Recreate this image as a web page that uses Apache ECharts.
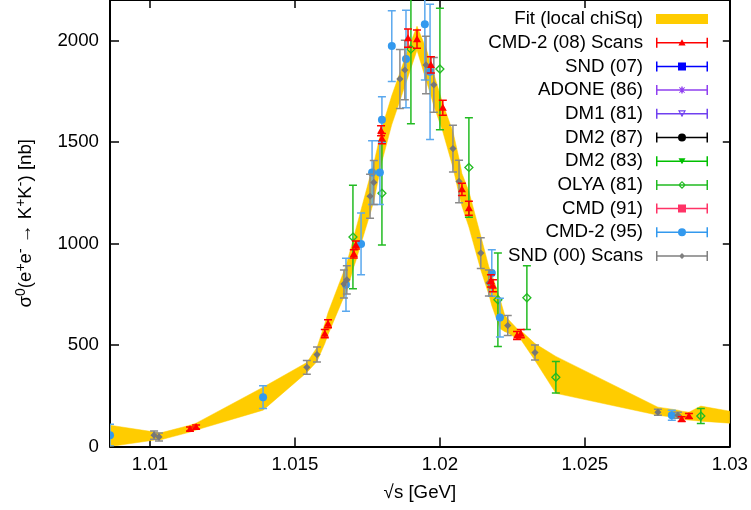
<!DOCTYPE html>
<html><head><meta charset="utf-8">
<script src="https://cdn.jsdelivr.net/npm/echarts@6/dist/echarts.min.js"></script>
<style>html,body{margin:0;padding:0;background:#fff}#c{width:751px;height:510px}</style>
</head><body><div id="c"></div>
<script>
// ---------- axes ----------
const xTickValues = [1.01, 1.015, 1.02, 1.025, 1.03];
const xMin = 1.00862, xMax = 1.03;
const yMin = 0, yMax = 2200, yStep = 500;

// ---------- fit band (local chiSq): x, upper, lower ----------
const fitX  = [1.00862,1.01017,1.01034,1.01138,1.01159,1.01390,1.01541,1.01576,1.01603,1.01614,1.01669,1.01679,1.01703,1.01710,1.01759,1.01772,1.01800,1.01834,1.01862,1.01883,1.01890,1.01921,1.01952,1.01969,1.01979,1.02010,1.02045,1.02066,1.02076,1.02100,1.02141,1.02169,1.02179,1.02207,1.02224,1.02234,1.02269,1.02279,1.02328,1.02400,1.02752,1.02800,1.02821,1.02834,1.02859,1.02900,1.03000];
const fitHi = [105,71,66,105,115,292,414,488,605,659,865,904,1032,1071,1331,1395,1571,1729,1841,1929,1958,2071,1963,1885,1836,1689,1551,1419,1345,1257,1037,885,850,728,645,630,576,571,507,444,194,184,179,174,169,199,174];
const fitLo = [0,32,32,71,81,179,365,419,507,551,738,767,885,914,1145,1208,1404,1586,1703,1792,1821,1953,1806,1728,1679,1551,1375,1243,1184,1081,870,748,694,581,566,561,527,527,424,262,154,145,140,135,130,125,115];

// ---------- CMD-2 (08) Scans ----------
const cmd208X = [1.01138,1.01159,1.01603,1.01614,1.01703,1.01710,1.01797,1.01800,1.01890,1.01921,1.01969,1.02010,1.02076,1.02100,1.02176,1.02183,1.02266,1.02279,1.02834,1.02859];
const cmd208Y = [86,96,556,605,949,993,1556,1517,2012,2007,1880,1669,1267,1174,816,792,547,556,135,150];
const cmd208E = [10,10,20,20,20,20,25,25,45,45,40,37,30,34,30,30,20,20,12,12];

// ---------- SND (00) Scans ----------
const snd00X = [1.01014,1.01031,1.01541,1.01576,1.01669,1.01679,1.01759,1.01772,1.01862,1.01879,1.01952,1.01979,1.02045,1.02066,1.02141,1.02169,1.02234,1.02328,1.02752,1.02821];
const snd00Y = [56,47,390,453,801,821,1233,1301,1811,1855,1880,1782,1468,1306,953,806,596,463,169,154];
const snd00E = [20,20,34,37,69,69,108,108,145,147,142,135,115,105,76,64,49,37,15,15];

// ---------- CMD-2 (95) ----------
const cmd295X = [1.00862,1.01390,1.01676,1.01728,1.01766,1.01793,1.01800,1.01834,1.01883,1.01948,1.01966,1.02179,1.02207,1.02800];
const cmd295Y = [56,243,797,998,1350,1350,1610,1973,1909,2081,1846,855,635,154];
const cmd295E = [54,56,130,152,157,157,113,174,240,275,333,115,96,25];

// ---------- OLYA (81) ----------
const olyaX = [1.017,1.018,1.019,1.020,1.021,1.022,1.023,1.024,1.029];
const olyaY = [1032,1248,1958,1860,1375,723,733,341,150];
const olyaE = [255,255,368,299,245,230,157,78,37];

// ---------- series without points in this window ----------
const emptyX = [], emptyY = [], emptyE = [];

const legendNames = ['Fit (local chiSq)','CMD-2 (08) Scans','SND (07)','ADONE (86)','DM1 (81)','DM2 (87)','DM2 (83)','OLYA (81)','CMD (91)','CMD-2 (95)','SND (00) Scans'];

const FONT = '"Liberation Sans", Arial, Helvetica, sans-serif';
const FS = 18.7;

function markerShape(kind, p, color) {
  const x = p[0], y = p[1];
  if (kind === 'tri') return {type:'polygon', shape:{points:[[x,y-4],[x+4,y+3],[x-4,y+3]]}, style:{fill:color}};
  if (kind === 'dia') return {type:'polygon', shape:{points:[[x,y-3.6],[x+3.6,y],[x,y+3.6],[x-3.6,y]]}, style:{fill:color}};
  if (kind === 'odia') return {type:'polygon', shape:{points:[[x,y-4],[x+4,y],[x,y+4],[x-4,y]]}, style:{fill:'none', stroke:color, lineWidth:1.3}};
  if (kind === 'circ') return {type:'circle', shape:{cx:x, cy:y, r:4}, style:{fill:color}};
  if (kind === 'sq') return {type:'rect', shape:{x:x-3.5, y:y-3.5, width:7, height:7}, style:{fill:color}};
  return {type:'circle', shape:{cx:x, cy:y, r:3}, style:{fill:color}};
}

function errSeries(name, xs, ys, es, color, barColor, marker) {
  return {
    type:'custom', name: name, clip:true,
    data: xs.map((x,i)=>[x, ys[i], es[i]]),
    encode:{x:0, y:1},
    itemStyle:{color: color},
    renderItem: function(params, api) {
      const x = api.value(0), y = api.value(1), e = api.value(2);
      const p = api.coord([x, y]);
      const a = api.coord([x, y + e]);
      const b = api.coord([x, y - e]);
      const w = 4;
      const ls = {stroke: barColor, lineWidth: 1.5};
      return {type:'group', children:[
        {type:'line', shape:{x1:p[0], y1:a[1], x2:p[0], y2:b[1]}, style:ls},
        {type:'line', shape:{x1:p[0]-w, y1:a[1], x2:p[0]+w, y2:a[1]}, style:ls},
        {type:'line', shape:{x1:p[0]-w, y1:b[1], x2:p[0]+w, y2:b[1]}, style:ls},
        markerShape(marker, p, color)
      ]};
    }
  };
}

const bandSeries = {
  type:'custom', name:'Fit (local chiSq)', clip:true,
  data: fitX.map((x,i)=>[x, fitLo[i], fitHi[i]]),
  encode:{x:0, y:[1,2]},
  itemStyle:{color:'#ffcc00'},
  renderItem: function(params, api) {
    if (params.dataIndex !== 0) return null;
    const n = params.dataInsideLength;
    const up = [], lo = [];
    for (let i = 0; i < n; i++) {
      const x = api.value(0, i);
      up.push(api.coord([x, api.value(2, i)]));
      lo.push(api.coord([x, api.value(1, i)]));
    }
    return {type:'polygon', shape:{points: up.concat(lo.reverse())}, style:{fill:'#ffcc00', stroke:'#ffcc00', lineWidth:0.5}};
  }
};

// legend icons: error bar with caps + marker (bounding box 52 x 10)
const BAR = 'M0 4.25 H52 V5.75 H0 Z M0 0 H1.5 V10 H0 Z M50.5 0 H52 V10 H50.5 Z ';
const ICON = {
  tri:  'path://' + BAR + 'M26 1.6 L29.6 7.8 L22.4 7.8 Z',
  sq:   'path://' + BAR + 'M22 1 H30 V9 H22 Z',
  ast:  'path://' + BAR + 'M23.7 2 L29 7.3 L28.3 8 L23 2.7 Z M28.3 2 L29 2.7 L23.7 8 L23 7.3 Z M25.3 1.5 H26.7 V8.5 H25.3 Z',
  otri: 'path://' + BAR + 'M22 1.5 L30 1.5 L26 8.5 Z M23.9 2.7 L26 6.3 L28.1 2.7 Z',
  circ: 'path://' + BAR + 'M22 5 A4 4 0 1 1 30 5 A4 4 0 1 1 22 5 Z',
  dtri: 'path://' + BAR + 'M22.5 2 L29.5 2 L26 8 Z',
  odia: 'path://' + BAR + 'M26 1 L30 5 L26 9 L22 5 Z M26 2.7 L23.7 5 L26 7.3 L28.3 5 Z',
  dia:  'path://' + BAR + 'M26 2 L29 5 L26 8 L23 5 Z'
};

const COLORS = {
  'Fit (local chiSq)':'#ffcc00', 'CMD-2 (08) Scans':'#ff0000', 'SND (07)':'#0000ff', 'ADONE (86)':'#9040f0',
  'DM1 (81)':'#7040f0', 'DM2 (87)':'#000000', 'DM2 (83)':'#00c000', 'OLYA (81)':'#22bb22',
  'CMD (91)':'#ff3366', 'CMD-2 (95)':'#3399ee', 'SND (00) Scans':'#808080'
};
const ICONS = {
  'Fit (local chiSq)':'rect', 'CMD-2 (08) Scans':ICON.tri, 'SND (07)':ICON.sq, 'ADONE (86)':ICON.ast,
  'DM1 (81)':ICON.otri, 'DM2 (87)':ICON.circ, 'DM2 (83)':ICON.dtri, 'OLYA (81)':ICON.odia,
  'CMD (91)':ICON.sq, 'CMD-2 (95)':ICON.circ, 'SND (00) Scans':ICON.dia
};

const series = [
  bandSeries,
  errSeries('OLYA (81)', olyaX, olyaY, olyaE, '#22bb22', '#22bb22', 'odia'),
  errSeries('CMD-2 (95)', cmd295X, cmd295Y, cmd295E, '#3399ee', '#5aa8ee', 'circ'),
  errSeries('SND (00) Scans', snd00X, snd00Y, snd00E, '#777777', '#8a8a8a', 'dia'),
  errSeries('CMD-2 (08) Scans', cmd208X, cmd208Y, cmd208E, '#ff0000', '#ff0000', 'tri'),
  errSeries('SND (07)', emptyX, emptyY, emptyE, '#0000ff', '#0000ff', 'sq'),
  errSeries('ADONE (86)', emptyX, emptyY, emptyE, '#9040f0', '#9040f0', 'dia'),
  errSeries('DM1 (81)', emptyX, emptyY, emptyE, '#7040f0', '#7040f0', 'dia'),
  errSeries('DM2 (87)', emptyX, emptyY, emptyE, '#000000', '#000000', 'circ'),
  errSeries('DM2 (83)', emptyX, emptyY, emptyE, '#00c000', '#00c000', 'tri'),
  errSeries('CMD (91)', emptyX, emptyY, emptyE, '#ff3366', '#ff3366', 'sq')
];

const axisLineStyle = {color:'#000', width:2};
const tickStyle = {color:'#000', width:1.5};

const chart = echarts.init(document.getElementById('c'), null, {renderer:'canvas'});
chart.setOption({
  animation:false,
  backgroundColor:'#fff',
  textStyle:{fontFamily:FONT},
  grid:{left:110, right:21, top:-2, bottom:63.5, containLabel:false},
  legend:{
    orient:'vertical', align:'right', right:43, top:9.5, padding:0,
    itemWidth:52, itemHeight:10, itemGap:4.7, selectedMode:false,
    itemStyle:{borderWidth:0},
    textStyle:{fontFamily:FONT, fontSize:FS, color:'#000', lineHeight:19, padding:[0,8,0,0]},
    data: legendNames.map(n => ({name:n, icon:ICONS[n], itemStyle:{color:COLORS[n], borderWidth:0}}))
  },
  xAxis:[{
    type:'value', min:xMin, max:xMax, position:'bottom',
    name:'√s [GeV]', nameLocation:'middle', nameGap:37,
    nameTextStyle:{fontFamily:FONT, fontSize:FS, color:'#000'},
    axisLine:{show:true, onZero:false, lineStyle:axisLineStyle},
    axisTick:{show:true, inside:true, length:9, customValues:xTickValues, lineStyle:tickStyle},
    axisLabel:{show:true, customValues:xTickValues, fontFamily:FONT, fontSize:FS, color:'#000', margin:9,
               formatter:v => String(+v.toFixed(3))},
    splitLine:{show:false}
  },{
    type:'value', min:xMin, max:xMax, position:'top',
    axisLine:{show:true, onZero:false, lineStyle:axisLineStyle},
    axisTick:{show:true, inside:true, length:8, customValues:xTickValues, lineStyle:tickStyle},
    axisLabel:{show:false, customValues:xTickValues},
    splitLine:{show:false}
  }],
  yAxis:[{
    type:'value', min:yMin, max:yMax, interval:yStep, position:'left',
    name:'{t|σ}{s|0}{t|(e}{s|+}{t|e}{s|-}{t| → K}{s|+}{t|K}{s|-}{t|) [nb]}',
    nameLocation:'middle', nameGap:72,
    nameTextStyle:{fontFamily:FONT, fontSize:FS, color:'#000',
      rich:{t:{fontFamily:FONT, fontSize:FS, color:'#000'}, s:{fontFamily:FONT, fontSize:14, color:'#000', padding:[0,0,10,0]}}},
    axisLine:{show:true, onZero:false, lineStyle:axisLineStyle},
    axisTick:{show:true, inside:true, length:9, lineStyle:tickStyle},
    axisLabel:{show:true, showMaxLabel:false, fontFamily:FONT, fontSize:FS, color:'#000', margin:11,
               formatter:v => String(v)},
    splitLine:{show:false}
  },{
    type:'value', min:yMin, max:yMax, interval:yStep, position:'right',
    axisLine:{show:true, onZero:false, lineStyle:axisLineStyle},
    axisTick:{show:true, inside:true, length:7, lineStyle:tickStyle},
    axisLabel:{show:false},
    splitLine:{show:false}
  }],
  series: series
});
</script></body></html>
